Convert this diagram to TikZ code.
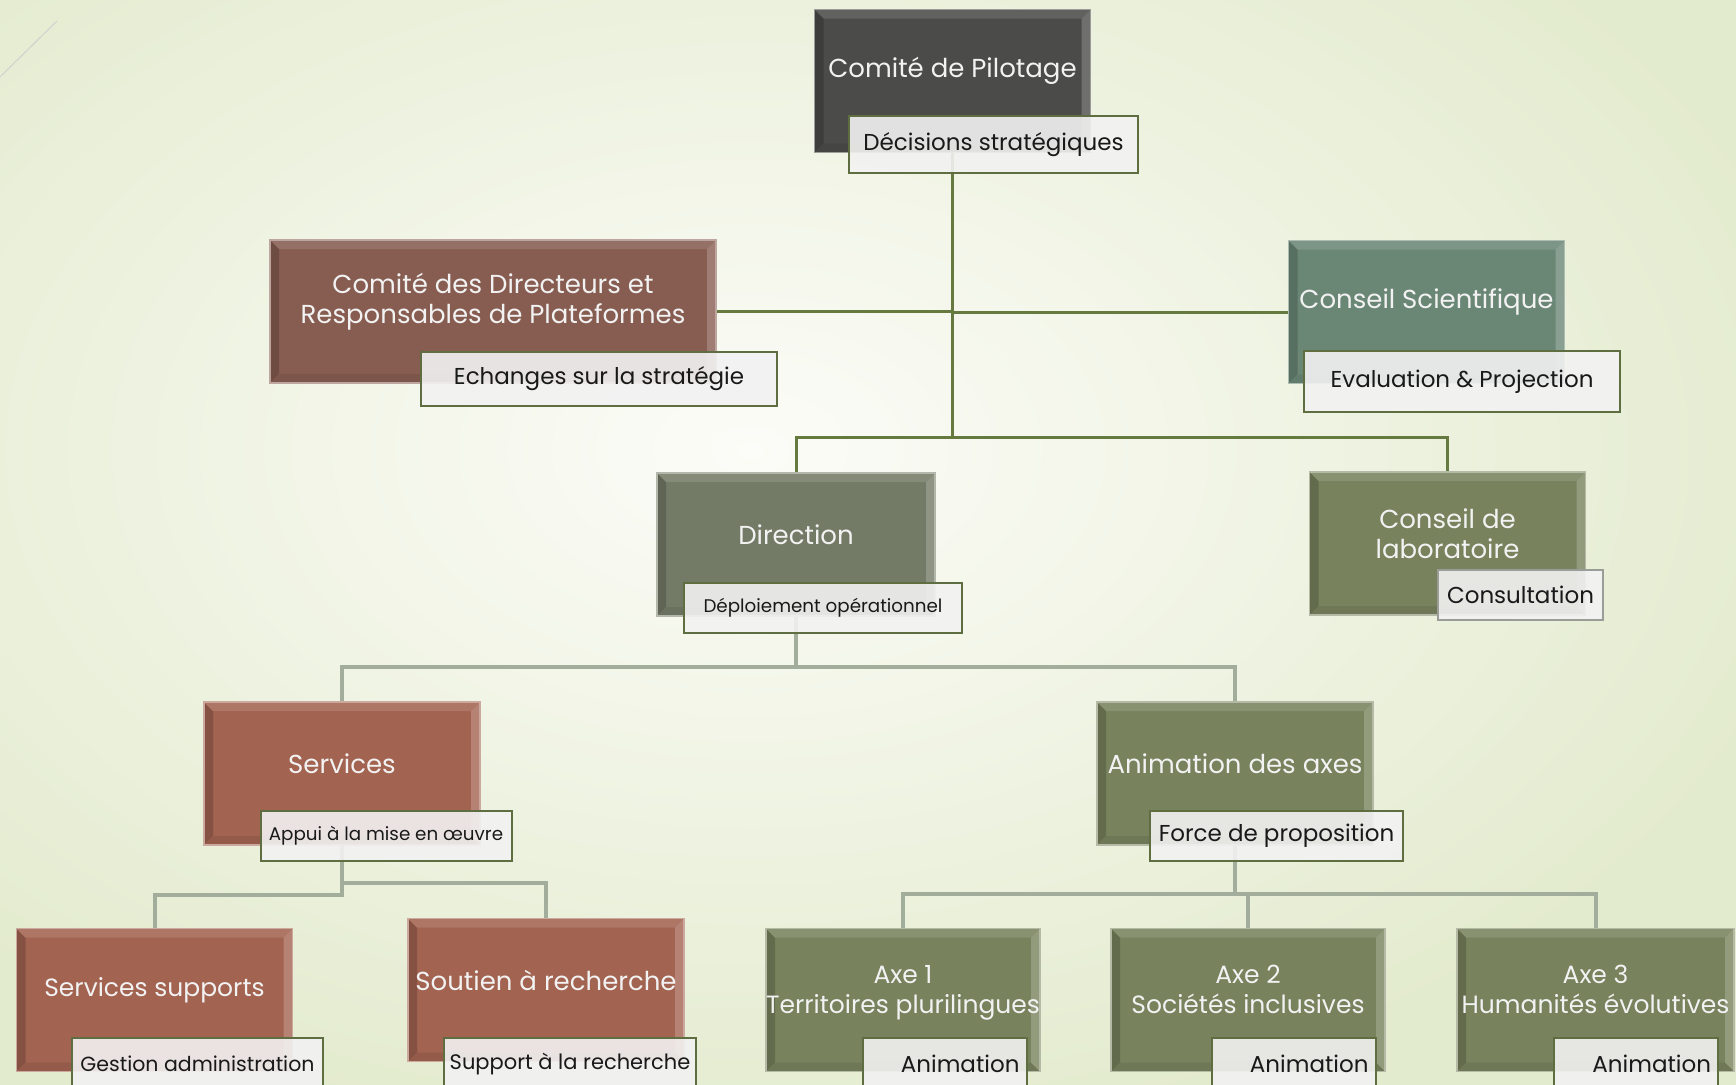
\documentclass[tikz,border=0pt]{standalone}
\usepackage{fontspec}
\setmainfont{Poppins}
\usetikzlibrary{backgrounds}

\definecolor{paper}{HTML}{FCFCF8}
\definecolor{leaf}{HTML}{E3EBCE}
\definecolor{pilotgray}{HTML}{4B4B49}
\definecolor{brick}{HTML}{875D51}
\definecolor{sage}{HTML}{6A8776}
\definecolor{slate}{HTML}{737B66}
\definecolor{moss}{HTML}{78825D}
\definecolor{rust}{HTML}{A26350}
\definecolor{trunkgreen}{HTML}{66793F}
\definecolor{linkgray}{HTML}{A3AD9C}
\definecolor{tagline}{HTML}{5E6E41}
\definecolor{taggray}{HTML}{9A9C98}

\tikzset{
  bevel/.style={path picture={
    \coordinate (bnw) at (path picture bounding box.north west);
    \coordinate (bne) at (path picture bounding box.north east);
    \coordinate (bsw) at (path picture bounding box.south west);
    \coordinate (bse) at (path picture bounding box.south east);
    \fill[#1!82!black] (bnw) -- (bsw) -- ([shift={(9pt,9pt)}]bsw) -- ([shift={(9pt,-9pt)}]bnw) -- cycle;
    \fill[#1!92!black] (bsw) -- (bse) -- ([shift={(-9pt,9pt)}]bse) -- ([shift={(9pt,9pt)}]bsw) -- cycle;
    \fill[#1!88!white] (bnw) -- (bne) -- ([shift={(-9pt,-9pt)}]bne) -- ([shift={(9pt,-9pt)}]bnw) -- cycle;
    \fill[#1!80!white] (bne) -- (bse) -- ([shift={(-9pt,9pt)}]bse) -- ([shift={(-9pt,-9pt)}]bne) -- cycle;
  }},
  box/.style={rectangle, fill=#1, draw=#1!55!white, line width=1.2pt, bevel=#1,
    minimum width=276pt, minimum height=143pt, inner sep=0pt},
  boxtext/.style={text=white!95!black, font=\fontsize{26}{30}\selectfont, align=center, yshift=10pt},
  smalltext/.style={boxtext, font=\fontsize{25}{30}\selectfont},
  axetext/.style={smalltext, yshift=-4pt},
  tag/.style={rectangle, draw=tagline, line width=2pt, fill=white!95!black, fill opacity=.9,
    text opacity=1, text=black!90, font=\fontsize{23}{26}\selectfont, inner sep=0pt},
  anim/.style={tag, minimum width=164pt, minimum height=52pt, text width=150pt, align=right},
  trunk/.style={draw=trunkgreen, line width=3pt},
  branch/.style={draw=linkgray, line width=4pt},
  deco/.style={draw=black!18, line width=1pt},
}

\begin{document}
\begin{tikzpicture}[x=1pt, y=-1pt]
  \useasboundingbox (0,0) rectangle (1736,1084);
  \begin{scope}[on background layer]
    \shade[inner color=paper, outer color=leaf] (-350,-250) rectangle (1850,1150);
    \draw[deco] (0,77) -- (57,21);
  \end{scope}

  % top
  \node[box=pilotgray, label={[boxtext]center:Comité de Pilotage}] (pilot) at (952.5,81) {};
  \node[tag, minimum width=289pt, minimum height=57pt] (decisions) at (993.5,144.5) {Décisions stratégiques};

  % second row
  \node[box=brick, minimum width=446pt,
    label={[boxtext]center:{Comité des Directeurs et\\Responsables de Plateformes}}] (codir) at (493,311.5) {};
  \node[tag, minimum width=356pt, minimum height=54pt] (echanges) at (599,379) {Echanges sur la stratégie};
  \node[box=sage, label={[boxtext]center:Conseil Scientifique}] (scient) at (1426.5,312) {};
  \node[tag, minimum width=316pt, minimum height=61pt] (evaluation) at (1462,381.5) {Evaluation \& Projection};

  % third row
  \node[box=slate, minimum width=278pt, label={[boxtext]center:Direction}] (direction) at (796,544.5) {};
  \node[tag, minimum width=278pt, minimum height=50pt, font=\fontsize{18.3}{22}\selectfont] (deploiement) at (823,608) {Déploiement opérationnel};
  \node[box=moss, label={[boxtext]center:{Conseil de\\laboratoire}}] (labo) at (1447.5,543.5) {};
  \node[tag, draw=taggray, minimum width=165pt, minimum height=50pt] (consultation) at (1520.5,595) {Consultation};

  % fourth row
  \node[box=rust, label={[boxtext]center:Services}] (services) at (342,773.5) {};
  \node[tag, minimum width=251pt, minimum height=50pt, font=\fontsize{18.3}{22}\selectfont] (appui) at (386,836) {Appui à la mise en œuvre};
  \node[box=moss, label={[boxtext]center:Animation des axes}] (animation) at (1235,773.5) {};
  \node[tag, minimum width=253pt, minimum height=50pt] (force) at (1276.5,836) {Force de proposition};

  % bottom row
  \node[box=rust, label={[smalltext]center:Services supports}] (supports) at (154.5,1000) {};
  \node[tag, minimum width=251pt, minimum height=52pt, font=\fontsize{20.5}{24}\selectfont] (gestion) at (197.5,1064) {Gestion administration};
  \node[box=rust, label={[boxtext]center:Soutien à recherche}] (soutien) at (546,990) {};
  \node[tag, minimum width=252pt, minimum height=52pt, font=\fontsize{21}{24}\selectfont] (support) at (570,1064) {Support à la recherche};
  \node[box=moss, minimum width=274pt, label={[axetext]center:{Axe 1\\Territoires plurilingues\strut}}] (axe1) at (903,1000) {};
  \node[anim] (anim1) at (944.5,1064) {Animation};
  \node[box=moss, minimum width=274pt, label={[axetext]center:{Axe 2\\Sociétés inclusives\strut}}] (axe2) at (1248,1000) {};
  \node[anim] (anim2) at (1293.5,1064) {Animation};
  \node[box=moss, minimum width=277pt, label={[axetext]center:{Axe 3\\Humanités évolutives\strut}}] (axe3) at (1595.5,1000) {};
  \node[anim] (anim3) at (1636,1064) {Animation};

  % junctions
  \coordinate (hubtop) at (952.5,437);
  \coordinate (hubmid) at (796,667);
  \coordinate (hubsrvL) at (342,895);
  \coordinate (hubsrvR) at (342,883);
  \coordinate (hubaxes) at (1235,894);

  \begin{scope}[on background layer]
    \draw[trunk] (pilot) -- (hubtop);
    \draw[trunk] (codir.east) -- (codir.east -| pilot);
    \draw[trunk] (scient.west) -- (scient.west -| pilot);
    \draw[trunk] (direction) |- (hubtop) -| (labo);
    \draw[branch] (direction) -- (hubmid);
    \draw[branch] (services) |- (hubmid) -| (animation);
    \draw[branch] (services) -- (hubsrvL) -| (supports);
    \draw[branch] (hubsrvR) -| (soutien);
    \draw[branch] (animation) -- (hubaxes);
    \draw[branch] (axe1) |- (hubaxes) -| (axe3);
    \draw[branch] (hubaxes -| axe2) -- (axe2);
  \end{scope}
\end{tikzpicture}
\end{document}
